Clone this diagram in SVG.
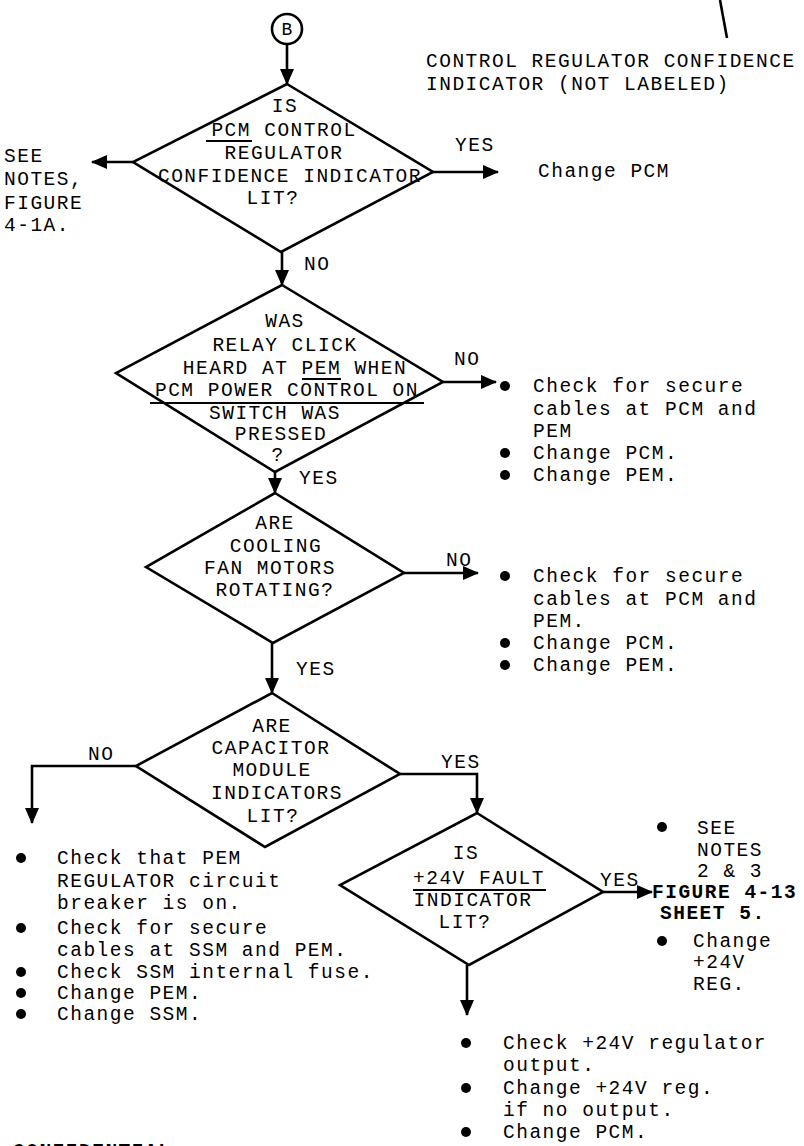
<svg xmlns="http://www.w3.org/2000/svg" width="804" height="1146" viewBox="0 0 804 1146">
<style>
text{font-family:"Liberation Mono","DejaVu Sans Mono",monospace;font-size:19.5px;letter-spacing:1.5px;fill:#000}
.c{text-anchor:middle}
.b{font-weight:bold}
.shape{fill:none;stroke:#000;stroke-width:2.6;stroke-linejoin:miter}
.ln{fill:none;stroke:#000;stroke-width:2.6}
.ul{stroke:#000;stroke-width:2}
.dot{fill:#000}
</style>
<defs>
<marker id="ah" viewBox="0 0 16 14" refX="15" refY="7" markerWidth="16" markerHeight="14" markerUnits="userSpaceOnUse" orient="auto">
<path d="M0,0 L16,7 L0,14 z" fill="#000"/>
</marker>
</defs>
<rect width="804" height="1146" fill="#fff"/>

<g id="connectors">
<line class="ln" x1="287" y1="44" x2="287" y2="84" marker-end="url(#ah)"/>
<line class="ln" x1="133" y1="162" x2="92" y2="162" marker-end="url(#ah)"/>
<line class="ln" x1="433" y1="172" x2="498" y2="172" marker-end="url(#ah)"/>
<line class="ln" x1="282" y1="252" x2="282" y2="285" marker-end="url(#ah)"/>
<line class="ln" x1="443" y1="382" x2="496" y2="382" marker-end="url(#ah)"/>
<line class="ln" x1="275" y1="472" x2="275" y2="493" marker-end="url(#ah)"/>
<line class="ln" x1="404" y1="573" x2="478" y2="573" marker-end="url(#ah)"/>
<line class="ln" x1="272" y1="643" x2="272" y2="693" marker-end="url(#ah)"/>
<polyline class="ln" points="136,766 32,766 32,823" marker-end="url(#ah)"/>
<polyline class="ln" points="400,774 477,774 477,813" marker-end="url(#ah)"/>
<line class="ln" x1="603" y1="892" x2="652" y2="892" marker-end="url(#ah)"/>
<line class="ln" x1="467" y1="965" x2="467" y2="1015" marker-end="url(#ah)"/>
<line class="ln" x1="720" y1="0" x2="727" y2="38"/>
</g>

<g id="labels">
<text x="304" y="270">NO</text>
<text x="455" y="151">YES</text>
<text x="454" y="365">NO</text>
<text x="299" y="484">YES</text>
<text x="446" y="566">NO</text>
<text x="296" y="675">YES</text>
<text x="88" y="760">NO</text>
<text x="441" y="768">YES</text>
<text x="600" y="886">YES</text>
</g>

<g id="note-top">
<text x="426" y="67">CONTROL REGULATOR CONFIDENCE</text>
<text x="426" y="90">INDICATOR (NOT LABELED)</text>
</g>

<g id="start-B">
<circle cx="287" cy="29" r="15" class="shape"/>
<text x="287" y="35" class="c" style="font-size:18px;letter-spacing:0">B</text>
</g>

<g id="d1">
<polygon class="shape" points="287,84 433,172 281,252 133,162"/>
<text x="285" y="112" class="c">IS</text>
<text x="284" y="136" class="c">PCM CONTROL</text>
<line class="ul" x1="206" y1="141" x2="252" y2="141"/>
<text x="284" y="159" class="c">REGULATOR</text>
<text x="290" y="182" class="c">CONFIDENCE INDICATOR</text>
<text x="273" y="204" class="c">LIT?</text>
</g>

<g id="see-notes">
<text x="4" y="162">SEE</text>
<text x="4" y="185">NOTES,</text>
<text x="4" y="209">FIGURE</text>
<text x="4" y="231">4-1A.</text>
</g>

<g id="change-pcm-1">
<text x="538" y="177">Change PCM</text>
</g>

<g id="d2">
<polygon class="shape" points="282,285 443,382 275,472 116,373"/>
<text x="285" y="327" class="c">WAS</text>
<text x="285" y="351" class="c">RELAY CLICK</text>
<text x="295" y="374" class="c">HEARD AT PEM WHEN</text>
<line class="ul" x1="302" y1="379" x2="341" y2="379"/>
<text x="287" y="396" class="c">PCM POWER CONTROL ON</text>
<line class="ul" x1="150" y1="403" x2="424" y2="403"/>
<text x="275" y="419" class="c">SWITCH WAS</text>
<text x="281" y="440" class="c">PRESSED</text>
<text x="278" y="461" class="c">?</text>
</g>

<g id="actions-2">
<circle class="dot" cx="505" cy="386" r="5"/>
<text x="533" y="392">Check for secure</text>
<text x="533" y="415">cables at PCM and</text>
<text x="533" y="437">PEM</text>
<circle class="dot" cx="505" cy="453" r="5"/>
<text x="533" y="459">Change PCM.</text>
<circle class="dot" cx="505" cy="475" r="5"/>
<text x="533" y="481">Change PEM.</text>
</g>

<g id="d3">
<polygon class="shape" points="275,493 404,573 273,643 146,567"/>
<text x="275" y="529" class="c">ARE</text>
<text x="276" y="552" class="c">COOLING</text>
<text x="270" y="574" class="c">FAN MOTORS</text>
<text x="275" y="596" class="c">ROTATING?</text>
</g>

<g id="actions-3">
<circle class="dot" cx="505" cy="576" r="5"/>
<text x="533" y="582">Check for secure</text>
<text x="533" y="605">cables at PCM and</text>
<text x="533" y="627">PEM.</text>
<circle class="dot" cx="505" cy="643" r="5"/>
<text x="533" y="649">Change PCM.</text>
<circle class="dot" cx="505" cy="665" r="5"/>
<text x="533" y="671">Change PEM.</text>
</g>

<g id="d4">
<polygon class="shape" points="272,693 400,774 265,847 136,766"/>
<text x="272" y="732" class="c">ARE</text>
<text x="271" y="754" class="c">CAPACITOR</text>
<text x="272" y="776" class="c">MODULE</text>
<text x="277" y="799" class="c">INDICATORS</text>
<text x="273" y="822" class="c">LIT?</text>
</g>

<g id="actions-4">
<circle class="dot" cx="21" cy="858" r="5"/>
<text x="57" y="864">Check that PEM</text>
<text x="57" y="887">REGULATOR circuit</text>
<text x="57" y="909">breaker is on.</text>
<circle class="dot" cx="21" cy="928" r="5"/>
<text x="57" y="934">Check for secure</text>
<text x="57" y="956">cables at SSM and PEM.</text>
<circle class="dot" cx="21" cy="972" r="5"/>
<text x="57" y="978">Check SSM internal fuse.</text>
<circle class="dot" cx="21" cy="993" r="5"/>
<text x="57" y="999">Change PEM.</text>
<circle class="dot" cx="21" cy="1014" r="5"/>
<text x="57" y="1020">Change SSM.</text>
</g>

<g id="d5">
<polygon class="shape" points="477,813 603,892 469,965 340,885"/>
<text x="466" y="859" class="c">IS</text>
<text x="479" y="884" class="c">+24V FAULT</text>
<line class="ul" x1="413" y1="890" x2="546" y2="890"/>
<text x="473" y="906" class="c">INDICATOR</text>
<text x="465" y="928" class="c">LIT?</text>
</g>

<g id="actions-5-yes">
<circle class="dot" cx="662" cy="827" r="5"/>
<text x="697" y="834">SEE</text>
<text x="697" y="856">NOTES</text>
<text x="697" y="877">2 &amp; 3</text>
<text x="652" y="898" class="b">FIGURE 4-13</text>
<text x="660" y="919" class="b">SHEET 5.</text>
<circle class="dot" cx="662" cy="941" r="5"/>
<text x="693" y="947">Change</text>
<text x="693" y="968">+24V</text>
<text x="693" y="990">REG.</text>
</g>

<g id="actions-5-no">
<circle class="dot" cx="466" cy="1043" r="5"/>
<text x="503" y="1049">Check +24V regulator</text>
<text x="503" y="1071">output.</text>
<circle class="dot" cx="466" cy="1088" r="5"/>
<text x="503" y="1094">Change +24V reg.</text>
<text x="503" y="1116">if no output.</text>
<circle class="dot" cx="466" cy="1132" r="5"/>
<text x="503" y="1138">Change PCM.</text>
</g>

<g id="footer">
<text x="13" y="1157" class="b">CONFIDENTIAL</text>
</g>
</svg>
